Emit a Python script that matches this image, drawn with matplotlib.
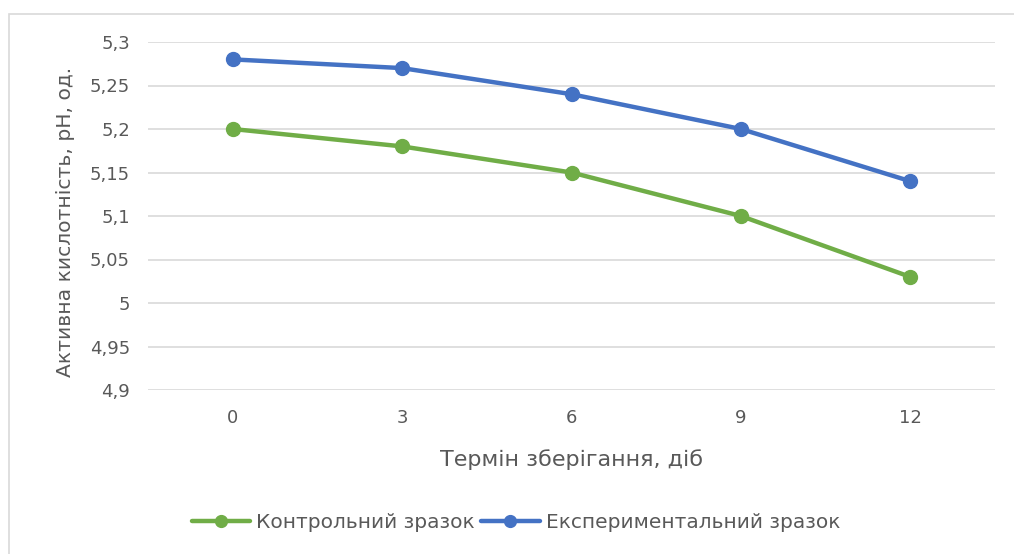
import matplotlib
matplotlib.use("Agg")
import matplotlib.pyplot as plt
from matplotlib.patches import Rectangle

plt.rcParams['font.family'] = ['DejaVu Sans']

days = ["0", "3", "6", "9", "12"]
control = [5.20, 5.18, 5.15, 5.10, 5.03]
experimental = [5.28, 5.27, 5.24, 5.20, 5.14]
y_ticks = [4.9, 4.95, 5.0, 5.05, 5.1, 5.15, 5.2, 5.25, 5.3]
y_tick_labels = ["4,9", "4,95", "5", "5,05", "5,1", "5,15", "5,2", "5,25", "5,3"]

text_color = "#595959"
green = "#70AD47"
blue = "#4472C4"

fig = plt.figure(figsize=(10.14, 5.54), dpi=100)
fig.patch.set_facecolor("white")

# chart frame
fig.patches.append(Rectangle((9 / 1014, -0.1), 1.2, (554 - 14) / 554 + 0.1,
                             transform=fig.transFigure, fill=False,
                             edgecolor="#d9d9d9", linewidth=1.2))

ax = fig.add_axes([148 / 1014, (554 - 390) / 554, 847 / 1014, 348 / 554])
x = list(range(len(days)))

ax.plot(x, control, color=green, linewidth=3.2, marker="o", markersize=10,
        label="Контрольний зразок", solid_capstyle="round", zorder=3)
ax.plot(x, experimental, color=blue, linewidth=3.2, marker="o", markersize=10,
        label="Експериментальний зразок", solid_capstyle="round", zorder=3)

ax.set_xlim(-0.5, len(days) - 0.5)
ax.set_ylim(4.9, 5.3)
ax.set_xticks(x)
ax.set_xticklabels(days)
ax.set_yticks(y_ticks)
ax.set_yticklabels(y_tick_labels)
ax.tick_params(axis="both", length=0, colors=text_color, labelsize=13)
ax.tick_params(axis="x", pad=14)
ax.tick_params(axis="y", pad=13)
ax.grid(axis="y", color="#d9d9d9", linewidth=1.2)
ax.set_axisbelow(True)
for s in ax.spines.values():
    s.set_visible(False)

ax.set_xlabel("Термін зберігання, діб", fontsize=16, color=text_color)
ax.xaxis.set_label_coords(0.5, -(460 - 390) / 348, transform=ax.transAxes)
ax.xaxis.label.set_va("center")
ax.set_ylabel("Активна кислотність, рН, од.", fontsize=14.6, color=text_color)
ax.yaxis.set_label_coords(-(148 - 66) / 847, (390 - 222) / 348, transform=ax.transAxes)
ax.yaxis.label.set_va("center")

leg = fig.legend(loc="center", bbox_to_anchor=(516 / 1014, 1 - 523 / 554), ncol=2,
                 frameon=False, fontsize=14.5, handlelength=2.9, columnspacing=0.3,
                 handletextpad=0.3, markerscale=0.85)
for t in leg.get_texts():
    t.set_color(text_color)

fig.savefig("out.png", dpi=100)
